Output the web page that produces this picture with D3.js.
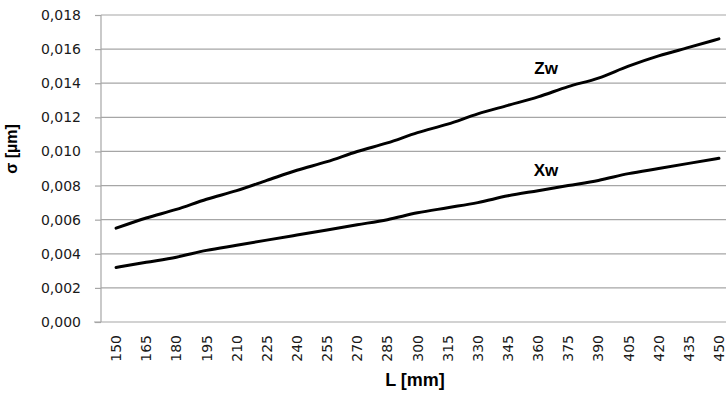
<!DOCTYPE html>
<html>
<head>
<meta charset="utf-8">
<script src="https://cdn.jsdelivr.net/npm/d3@7"></script>
<style>
  body { margin: 0; background: #fff; }
  svg { display: block; }
</style>
</head>
<body>
<div id="chart"></div>
<script>
// data
var categories = [150, 165, 180, 195, 210, 225, 240, 255, 270, 285, 300,
                  315, 330, 345, 360, 375, 390, 405, 420, 435, 450];
var zwValues = [0.0055, 0.0061, 0.0066, 0.0072, 0.0077, 0.0083, 0.0089, 0.0094,
                0.0100, 0.0105, 0.0111, 0.0116, 0.0122, 0.0127, 0.0132, 0.0138,
                0.0143, 0.0150, 0.0156, 0.0161, 0.0166];
var xwValues = [0.0032, 0.0035, 0.0038, 0.0042, 0.0045, 0.0048, 0.0051, 0.0054,
                0.0057, 0.0060, 0.0064, 0.0067, 0.0070, 0.0074, 0.0077, 0.0080,
                0.0083, 0.0087, 0.0090, 0.0093, 0.0096];
var yTicks = [0, 0.002, 0.004, 0.006, 0.008, 0.010, 0.012, 0.014, 0.016, 0.018];
var seriesNames = ['Zw', 'Xw'];

var width = 726, height = 399;
var margin = {top: 15, right: -8, bottom: 77, left: 101};
var w = width - margin.left - margin.right,
    h = height - margin.top - margin.bottom;

var svg = d3.select('#chart').append('svg')
    .attr('width', width)
    .attr('height', height);
var g = svg.append('g')
    .attr('transform', 'translate(' + margin.left + ',' + margin.top + ')');

var xScale = d3.scaleBand()
    .domain(categories)
    .range([0, w]);
var yScale = d3.scaleLinear()
    .domain([0, 0.018])
    .range([h, 0]);

var fmt = function(d) { return d3.format('.3f')(d).replace('.', ','); };

// grid
g.append('g')
    .selectAll('line')
    .data(yTicks.slice(1))
  .enter().append('line')
    .attr('x1', 0).attr('x2', w)
    .attr('y1', d => yScale(d)).attr('y2', d => yScale(d))
    .style('stroke', '#a6a6a6')
    .style('stroke-width', 1.2);

// y axis
var yaxis = d3.axisLeft(yScale).tickValues(yTicks).tickFormat(fmt).tickSize(6).tickPadding(14);
var yG = g.append('g').call(yaxis);
yG.select('.domain').remove();
yG.selectAll('.tick line').style('stroke', '#a6a6a6').style('stroke-width', 1.2);
yG.selectAll('.tick text')
    .style('font', "14px 'DejaVu Sans', sans-serif")
    .style('fill', '#1a1a1a');
g.append('line')
    .attr('x1', 0).attr('x2', 0).attr('y1', 0).attr('y2', h)
    .style('stroke', '#a6a6a6').style('stroke-width', 1.2);

// x axis
var xaxis = d3.axisBottom(xScale).tickSize(0).tickPadding(0);
var xG = g.append('g')
    .attr('transform', 'translate(0,' + h + ')')
    .call(xaxis);
xG.select('.domain').remove();
xG.selectAll('.tick text')
    .style('font', "14px 'DejaVu Sans', sans-serif")
    .style('fill', '#1a1a1a')
    .attr('transform', 'rotate(-90)')
    .attr('x', -13)
    .attr('y', 0)
    .attr('dy', '0.36em')
    .style('text-anchor', 'end');
g.append('line')
    .attr('x1', -7).attr('x2', w).attr('y1', h).attr('y2', h)
    .style('stroke', '#a6a6a6').style('stroke-width', 1.2);

// lines
var line = d3.line()
    .x((d, i) => xScale(categories[i]) + xScale.bandwidth() / 2)
    .y(d => yScale(d))
    .curve(d3.curveMonotoneX);

[zwValues, xwValues].forEach(function(vals) {
  g.append('path')
    .datum(vals)
      .attr('class', 'line')
      .attr('d', line)
      .style('fill', 'none')
      .style('stroke', '#000')
      .style('stroke-width', 3)
      .style('stroke-linecap', 'round');
});

// series labels
var labelPos = [{cat: 360, val: 0.0149}, {cat: 360, val: 0.0089}];
seriesNames.forEach(function(name, i) {
  g.append('text')
      .attr('x', xScale(labelPos[i].cat) + xScale.bandwidth() / 2 + 8)
      .attr('y', yScale(labelPos[i].val))
      .attr('dy', '0.35em')
      .style('text-anchor', 'middle')
      .style('font', "bold 17px 'Liberation Sans', Arial, sans-serif")
      .text(name);
});

// axis titles
svg.append('text')
    .attr('transform', 'translate(17,149) rotate(-90)')
    .style('text-anchor', 'middle')
    .style('font', "bold 16px 'Liberation Sans', Arial, sans-serif")
    .text('σ [µm]');

svg.append('text')
    .attr('x', 415)
    .attr('y', 386)
    .style('text-anchor', 'middle')
    .style('font', "bold 18px 'Liberation Sans', Arial, sans-serif")
    .text('L [mm]');
</script>
</body>
</html>
